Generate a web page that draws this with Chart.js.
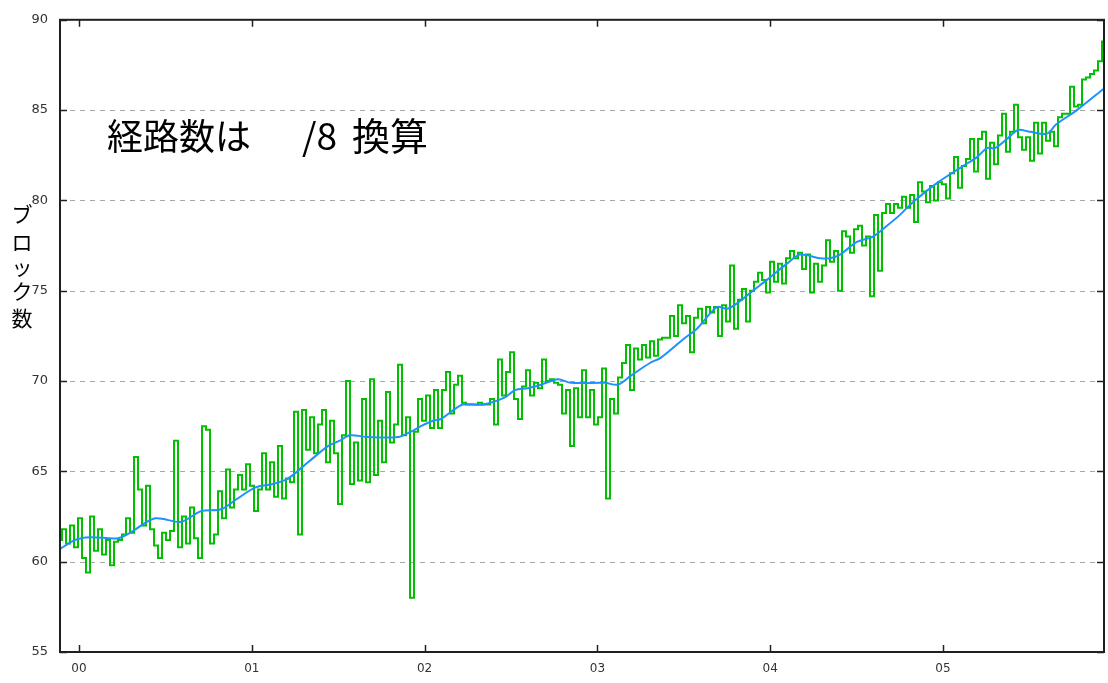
<!DOCTYPE html>
<html lang="ja">
<head>
<meta charset="utf-8">
<script src="https://cdn.jsdelivr.net/npm/chart.js@4"></script>
<style>
  html, body { margin: 0; padding: 0; background: #fff; }
  canvas { display: block; }
</style>
</head>
<body>
<canvas id="grafico" width="1108" height="683"></canvas>
<script>
// 横軸 (年: 00 = 2000年)
const xMin = -0.11;
const xMax = 5.932;
const yearTicks = [0, 1, 2, 3, 4, 5];
const yearLabels = ['00', '01', '02', '03', '04', '05'];
const yTicks = [55, 60, 65, 70, 75, 80, 85, 90];
const gridValues = [60, 65, 70, 75, 80, 85];

// 緑: ブロック数 (等間隔のサンプル、左端から右端まで)
const greenValues = [
  61.2, 61.8, 61.0, 62.0, 60.8, 62.4, 60.2, 59.4, 62.5, 60.6, 61.8, 60.4, 61.2,
  59.8, 61.1, 61.2, 61.5, 62.4, 61.6, 65.8, 64.0, 62.0, 64.2, 61.8, 60.9, 60.2,
  61.6, 61.2, 61.7, 66.7, 60.8, 62.5, 61.0, 63.0, 61.3, 60.2, 67.5, 67.3, 61.0,
  61.5, 63.9, 62.4, 65.1, 63.0, 64.0, 64.8, 64.0, 65.4, 64.2, 62.8, 64.0, 66.0,
  64.0, 65.5,
  63.6, 66.4, 63.5, 64.6, 64.4, 68.3, 61.5, 68.4, 66.2, 68.0, 66.0, 67.6, 68.4,
  65.5, 67.8, 66.0, 63.2, 67.0, 70.0, 64.3, 66.6, 64.5, 69.0, 64.4, 70.1, 64.8,
  67.8, 65.5, 69.4, 66.6, 67.6, 70.9, 67.0, 68.0, 58.0, 67.2, 69.0, 67.8, 69.2,
  67.4, 69.5, 67.4, 69.5, 70.5, 68.2, 69.8, 70.3, 68.8, 68.7, 68.7, 68.7, 68.8,
  68.7, 68.7, 69.0, 67.6, 71.2, 69.2, 70.5, 71.6, 69.0, 67.9, 69.7, 70.6, 69.2,
  69.9, 69.6, 71.2, 70.0, 70.1, 69.9, 69.8, 68.2, 69.5, 66.4, 69.6, 68.0, 70.6,
  68.0, 69.5, 67.6, 68.0, 70.7, 63.5, 69.0, 68.2, 70.2, 71.0, 72.0, 69.5, 71.8,
  71.2, 72.0, 71.3, 72.2, 71.4, 72.3, 72.4, 72.4, 73.6, 72.5, 74.2, 73.2, 73.6,
  71.6, 73.5,
  74.0, 73.2, 74.1, 73.8, 74.1, 72.5, 74.2, 73.3, 76.4, 72.9, 74.5, 75.1, 73.3,
  75.0, 75.5, 76.0, 75.6, 74.9, 76.6, 75.5, 76.5, 75.4, 76.8, 77.2, 76.8, 77.1,
  76.2, 77.0, 74.9, 76.5, 75.5, 76.4, 77.8, 76.6, 77.2, 75.0, 78.3, 78.0, 77.1,
  78.4, 78.6, 77.5, 78.0, 74.7, 79.2, 76.1, 79.3, 79.8, 79.3, 79.8, 79.6,
  80.2, 79.6, 80.3, 78.8, 81.0, 80.5, 79.9, 80.8, 80.0, 81.0, 80.9, 80.1, 81.5,
  82.4, 80.7, 81.9, 82.3, 83.4, 81.6, 83.4, 83.8, 81.2, 83.2, 82.0, 83.6, 84.8,
  82.7, 83.8, 85.3, 83.5, 82.8, 83.5, 82.2, 84.3, 82.6, 84.3, 83.3, 83.8, 83.0,
  84.6, 84.8, 84.8, 86.3, 85.2, 85.3, 86.7, 86.8, 87.0, 87.2, 87.7, 88.8
];

// 青: 平滑化した傾向線
const blueX = [
  -0.110, -0.023, 0.064, 0.226, 0.295, 0.440, 0.590, 0.706, 0.822, 0.903,
  1.019, 1.123, 1.209, 1.325, 1.441, 1.510, 1.568, 1.672, 1.846, 1.921,
  1.979, 2.049, 2.095, 2.153, 2.222, 2.338, 2.465, 2.523, 2.598, 2.674,
  2.772, 2.847, 3.044, 3.119, 3.194, 3.304, 3.368, 3.495, 3.576, 3.692,
  3.750, 3.808, 3.900, 3.981, 4.097, 4.172, 4.288, 4.346, 4.404, 4.502,
  4.595, 4.676, 4.751, 4.826, 4.971, 5.116, 5.197, 5.255, 5.301, 5.370,
  5.434, 5.503, 5.602, 5.654, 5.775, 5.932
];
const blueY = [
  60.7, 61.2, 61.35, 61.3, 61.6, 62.4, 62.2, 62.8, 62.9, 63.4,
  64.1, 64.3, 64.6, 65.5, 66.4, 66.7, 67.0, 66.9, 66.9, 67.2,
  67.5, 67.8, 67.9, 68.3, 68.7, 68.7, 69.1, 69.5, 69.6, 69.8,
  70.1, 69.9, 69.9, 69.8, 70.3, 71.0, 71.3, 72.3, 72.9, 74.1,
  74.0, 74.3, 75.0, 75.6, 76.5, 77.0, 76.8, 76.8, 77.0, 77.7,
  78.0, 78.6, 79.2, 79.9, 81.0, 81.9, 82.4, 82.9, 82.9, 83.4,
  83.9, 83.8, 83.7, 84.2, 85.0, 86.2
];

const greenPoints = greenValues.map((v, i) => ({
  x: xMin + i * (xMax - xMin) / (greenValues.length - 1),
  y: v
}));
const bluePoints = blueX.map((x, i) => ({ x: x, y: blueY[i] }));

// 目盛り線・枠・注記
const decoracion = {
  id: 'decoracion',
  beforeDatasetsDraw(chart) {
    const { ctx, chartArea: a, scales } = chart;
    ctx.save();
    ctx.strokeStyle = '#a8a8a8';
    ctx.lineWidth = 1;
    ctx.setLineDash([5, 5]);
    gridValues.forEach(v => {
      const y = Math.round(scales.y.getPixelForValue(v)) + 0.5;
      ctx.beginPath();
      ctx.moveTo(a.left, y);
      ctx.lineTo(a.right, y);
      ctx.stroke();
    });
    ctx.restore();
  },
  afterDatasetsDraw(chart) {
    const { ctx, chartArea: a, scales } = chart;
    ctx.save();
    ctx.strokeStyle = '#202020';
    ctx.lineWidth = 1.5;
    ctx.beginPath();
    yearTicks.forEach(v => {
      const x = Math.round(scales.x.getPixelForValue(v)) + 0.5;
      ctx.moveTo(x, a.bottom); ctx.lineTo(x, a.bottom - 7);
      ctx.moveTo(x, a.top); ctx.lineTo(x, a.top + 7);
    });
    yTicks.forEach(v => {
      const y = Math.round(scales.y.getPixelForValue(v)) + 0.5;
      ctx.moveTo(a.left, y); ctx.lineTo(a.left + 7, y);
      ctx.moveTo(a.right, y); ctx.lineTo(a.right - 7, y);
    });
    ctx.stroke();
    ctx.lineWidth = 2;
    ctx.strokeRect(a.left, a.top, a.right - a.left, a.bottom - a.top);

    // 注記
    ctx.fillStyle = '#000';
    ctx.textBaseline = 'middle';
    ctx.textAlign = 'left';
    ctx.font = '36px "Noto Sans CJK JP"';
    ctx.fillText('経路数は', 107, 136);
    ctx.font = '37px "Noto Sans CJK JP"';
    ctx.fillText('/8', 302, 136);
    ctx.font = '38px "Noto Sans CJK JP"';
    ctx.fillText('換算', 352, 136);

    // 縦軸の名前 (縦書き)
    ctx.font = '21px "Noto Sans CJK JP"';
    ctx.textAlign = 'center';
    const nombre = ['ブ', 'ロ', 'ッ', 'ク', '数'];
    const posY = [214, 242, 267, 291, 318];
    nombre.forEach((c, i) => ctx.fillText(c, 22, posY[i]));
    ctx.restore();
  }
};

new Chart(document.getElementById('grafico'), {
  type: 'line',
  data: {
    datasets: [
      {
        label: '傾向',
        data: bluePoints,
        borderColor: 'rgb(30, 144, 255)',
        borderWidth: 2,
        pointRadius: 0,
        tension: 0.3,
        order: 0
      },
      {
        label: 'ブロック数',
        data: greenPoints,
        borderColor: 'rgb(0, 192, 0)',
        borderWidth: 2,
        pointRadius: 0,
        stepped: 'middle',
        order: 1
      }
    ]
  },
  options: {
    responsive: false,
    animation: false,
    layout: { padding: { top: 15, right: 4, left: 0, bottom: 0 } },
    plugins: {
      legend: { display: false },
      tooltip: { enabled: false }
    },
    scales: {
      x: {
        type: 'linear',
        min: xMin,
        max: xMax,
        afterBuildTicks: s => { s.ticks = yearTicks.map(v => ({ value: v })); },
        afterFit: s => { s.height = 31; },
        grid: { display: false, drawTicks: false },
        border: { display: false },
        ticks: {
          padding: 10,
          color: '#333',
          font: { family: 'DejaVu Sans', size: 12 },
          callback: v => yearLabels[yearTicks.indexOf(v)]
        }
      },
      y: {
        min: 55,
        max: 90,
        afterBuildTicks: s => { s.ticks = yTicks.map(v => ({ value: v })); },
        afterFit: s => { s.width = 60; },
        grid: { display: false, drawTicks: false },
        border: { display: false },
        ticks: {
          padding: 12,
          color: '#333',
          font: { family: 'DejaVu Sans', size: 13 }
        }
      }
    }
  },
  plugins: [decoracion]
});
</script>
</body>
</html>
